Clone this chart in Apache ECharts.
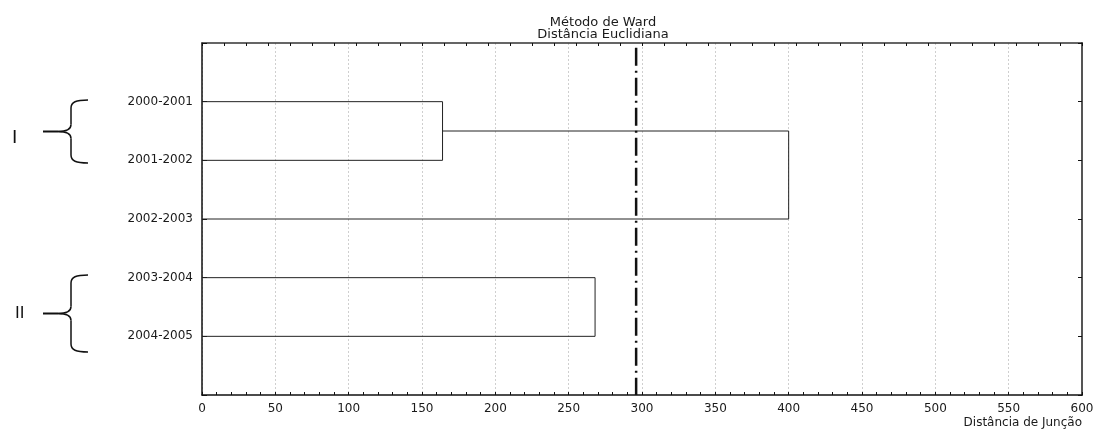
<!DOCTYPE html>
<html>
<head>
<meta charset="utf-8">
<script src="https://cdn.jsdelivr.net/npm/echarts@6/dist/echarts.min.js"></script>
<style>
  html, body { margin: 0; padding: 0; background: #fff; }
  #chart { width: 1096px; height: 430px; }
</style>
</head>
<body>
<div id="chart"></div>
<script>
// Objects being clustered (leaves of the dendrogram, top to bottom)
const leaves = ['2000-2001', '2001-2002', '2002-2003', '2003-2004', '2004-2005'];
// Each merge joins two nodes; ids >= leaves.length refer to earlier merges
const mergeLeft = [0, 5, 3];
const mergeRight = [1, 2, 4];
const mergeHeights = [164, 400, 268];
// Cut level drawn as a dash-dot reference line
const cutHeight = [296];
// Distance axis ticks
const xTicks = [0, 50, 100, 150, 200, 250, 300, 350, 400, 450, 500, 550, 600];

const FONT = 'DejaVu Sans';
const INK = '#1a1a1a';

// Node positions: x = joining distance, y = vertical slot (1-based)
const nodeX = leaves.map(() => 0);
const nodeY = leaves.map((_, i) => i + 1);
const linkSeries = mergeHeights.map((h, k) => {
  const a = mergeLeft[k], b = mergeRight[k];
  nodeX.push(h);
  nodeY.push((nodeY[a] + nodeY[b]) / 2);
  return {
    type: 'line',
    xAxisIndex: 0,
    yAxisIndex: 0,
    symbol: 'none',
    silent: true,
    animation: false,
    lineStyle: { color: '#222', width: 1 },
    data: [[nodeX[a], nodeY[a]], [h, nodeY[a]], [h, nodeY[b]], [nodeX[b], nodeY[b]]]
  };
});

const cutSeries = {
  type: 'line',
  xAxisIndex: 0,
  yAxisIndex: 0,
  symbol: 'none',
  silent: true,
  animation: false,
  z: 5,
  lineStyle: { color: '#111', width: 2.5, type: [18, 5, 2, 5] },
  data: [[cutHeight[0], 0.08], [cutHeight[0], leaves.length + 1]]
};

const chart = echarts.init(document.getElementById('chart'), null, { renderer: 'canvas' });

// Curly brace with its tip pointing left, as a set of curve/line pieces
function brace(y0, y1) {
  const xr = 88, xb = 71, xj = 58, xt = 43;
  const ym = (y0 + y1) / 2;
  const st = { stroke: '#111', lineWidth: 1.5, fill: null };
  return [
    { type: 'bezierCurve', shape: { x1: xr, y1: y0, cpx1: xb + 5, cpy1: y0, cpx2: xb, cpy2: y0 + 2, x2: xb, y2: y0 + 8 }, style: st },
    { type: 'line', shape: { x1: xb, y1: y0 + 8, x2: xb, y2: ym - 7 }, style: st },
    { type: 'bezierCurve', shape: { x1: xb, y1: ym - 7, cpx1: xb, cpy1: ym - 2, cpx2: xb - 5, cpy2: ym, x2: xj, y2: ym }, style: st },
    { type: 'line', shape: { x1: xj, y1: ym, x2: xt, y2: ym }, style: { stroke: '#111', lineWidth: 2 } },
    { type: 'bezierCurve', shape: { x1: xj, y1: ym, cpx1: xb - 5, cpy1: ym, cpx2: xb, cpy2: ym + 2, x2: xb, y2: ym + 7 }, style: st },
    { type: 'line', shape: { x1: xb, y1: ym + 7, x2: xb, y2: y1 - 8 }, style: st },
    { type: 'bezierCurve', shape: { x1: xb, y1: y1 - 8, cpx1: xb, cpy1: y1 - 2, cpx2: xb + 5, cpy2: y1, x2: xr, y2: y1 }, style: st }
  ];
}

const option = {
  backgroundColor: '#fff',
  animation: false,
  title: {
    text: 'Método de Ward\nDistância Euclidiana',
    left: 598,
    top: 11,
    textAlign: 'center',
    textStyle: { fontFamily: FONT, fontSize: 13, fontWeight: 'normal', color: INK, lineHeight: 12.5 }
  },
  grid: { left: 202, right: 14, top: 43, bottom: 35, containLabel: false, outerBoundsMode: 'none' },
  xAxis: [
    {
      type: 'value',
      position: 'bottom',
      min: xTicks[0],
      max: xTicks[xTicks.length - 1],
      interval: xTicks[1] - xTicks[0],
      name: 'Distância de Junção',
      nameLocation: 'end',
      nameGap: 0,
      nameTextStyle: { fontFamily: FONT, fontSize: 12, color: INK, align: 'right', verticalAlign: 'top', padding: [22, 0, 0, 0] },
      axisLine: { show: true, onZero: false, lineStyle: { color: '#111', width: 1.5 } },
      axisTick: { show: true, inside: true, length: 3, lineStyle: { color: '#111' } },
      minorTick: { show: true, splitNumber: 5, length: 3, lineStyle: { color: '#111' } },
      axisLabel: { fontFamily: FONT, fontSize: 12, color: INK, margin: 8 },
      splitLine: { show: true, lineStyle: { color: '#cfcfcf', width: 1, type: [2, 2] } }
    },
    {
      type: 'value',
      position: 'top',
      min: 0,
      max: 40,
      interval: 1,
      axisLine: { show: true, onZero: false, lineStyle: { color: '#333', width: 1.5 } },
      axisTick: { show: true, inside: true, length: 3, lineStyle: { color: '#111' } },
      axisLabel: { show: false },
      splitLine: { show: false }
    }
  ],
  yAxis: [
    {
      type: 'value',
      position: 'left',
      inverse: true,
      min: 0,
      max: leaves.length + 1,
      interval: 1,
      axisLine: { show: true, onZero: false, lineStyle: { color: '#111', width: 1.5 } },
      axisTick: { show: true, inside: true, length: 5, lineStyle: { color: '#111' } },
      axisLabel: {
        fontFamily: FONT, fontSize: 12, color: INK, margin: 9,
        formatter: v => leaves[v - 1] || ''
      },
      splitLine: { show: false }
    },
    {
      type: 'value',
      position: 'right',
      inverse: true,
      min: 0,
      max: leaves.length + 1,
      interval: 1,
      axisLine: { show: true, onZero: false, lineStyle: { color: '#555', width: 2 } },
      axisTick: { show: true, inside: true, length: 4, lineStyle: { color: '#111' } },
      axisLabel: { show: false },
      splitLine: { show: false }
    }
  ],
  series: linkSeries.concat([cutSeries]),
  graphic: [
    { type: 'group', silent: true, children: brace(100, 163) },
    { type: 'group', silent: true, children: brace(275, 352) },
    { type: 'text', left: 12, top: 129, silent: true,
      style: { text: 'I', font: '18px "DejaVu Sans"', fill: '#111' } },
    { type: 'text', left: 15, top: 306, silent: true,
      style: { text: 'II', font: '16px "DejaVu Sans"', fill: '#111' } }
  ]
};

chart.setOption(option);
</script>
</body>
</html>
